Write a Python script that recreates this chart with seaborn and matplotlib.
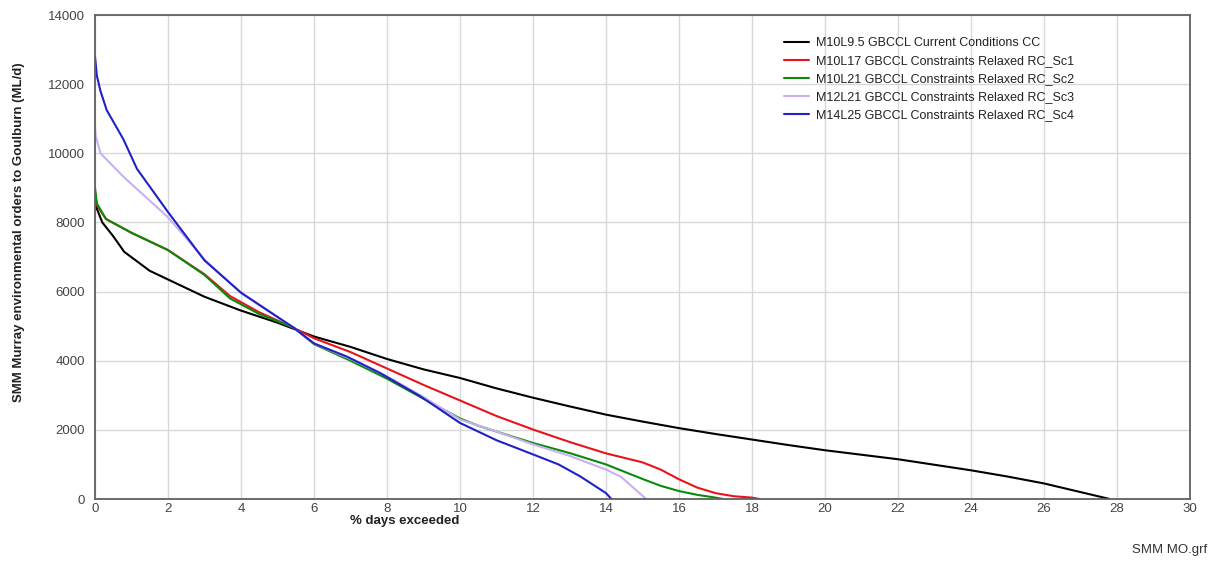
import matplotlib
matplotlib.use("Agg")
import matplotlib.pyplot as plt
import seaborn as sns
import pandas as pd

# ---- data ----
series_names = [
    "M10L9.5 GBCCL Current Conditions CC",
    "M10L17 GBCCL Constraints Relaxed RC_Sc1",
    "M10L21 GBCCL Constraints Relaxed RC_Sc2",
    "M12L21 GBCCL Constraints Relaxed RC_Sc3",
    "M14L25 GBCCL Constraints Relaxed RC_Sc4",
]

cc_x = [0, 0.05, 0.2, 0.5, 0.8, 1.5, 2, 3, 4, 5, 6, 7, 8, 9, 10, 11, 12, 13, 14,
        15, 16, 17, 18, 19, 20, 21, 22, 23, 24, 25, 26, 27, 27.8]
cc_y = [8750, 8400, 8000, 7600, 7150, 6600, 6350, 5850, 5450, 5100, 4700, 4400,
        4050, 3750, 3500, 3200, 2930, 2680, 2440, 2240, 2050, 1880, 1720, 1560,
        1410, 1280, 1150, 990, 830, 650, 450, 200, 0]

sc1_x = [0, 0.05, 0.3, 1, 2, 3, 3.7, 4.5, 5.45, 6, 7, 7.8, 9, 10, 11, 12, 13, 14,
         15, 15.5, 16, 16.5, 17, 17.5, 18, 18.2]
sc1_y = [8900, 8500, 8100, 7700, 7200, 6500, 5870, 5400, 4950, 4650, 4250, 3870,
         3300, 2850, 2400, 2010, 1650, 1320, 1060, 850, 570, 330, 170, 80, 40, 0]

sc2_x = [0, 0.05, 0.3, 1, 2, 3, 3.7, 4.5, 5.45, 6, 7, 8, 9, 10, 10.5, 11, 12, 13,
         14, 15, 15.5, 16, 16.5, 17, 17.2]
sc2_y = [9000, 8550, 8100, 7700, 7200, 6480, 5800, 5350, 4950, 4480, 4000, 3480,
         2900, 2330, 2120, 1950, 1620, 1330, 1000, 580, 380, 230, 120, 40, 0]

sc3_x = [0, 0.02, 0.15, 0.8, 2, 3, 4, 5.45, 6, 7, 8, 9, 10, 11, 12, 13, 14, 14.4,
         14.8, 15.1]
sc3_y = [10800, 10500, 10000, 9300, 8150, 6930, 5950, 4950, 4500, 4050, 3550,
         2950, 2300, 1950, 1580, 1250, 850, 650, 280, 0]

sc4_x = [0, 0.05, 0.15, 0.32, 0.78, 1.15, 2, 3, 4, 5.45, 6, 6.9, 7.8, 8.9, 10, 11,
         12, 12.7, 13.3, 14, 14.15]
sc4_y = [12800, 12250, 11800, 11250, 10400, 9550, 8300, 6900, 5970, 4950, 4500,
         4120, 3650, 2980, 2200, 1700, 1290, 1000, 650, 170, 0]

x_ticks = list(range(0, 31, 2))
y_ticks = list(range(0, 14001, 2000))

colors = ["#000000", "#e8141a", "#0a8a0a", "#c9b0f0", "#2020c8"]

# ---- build long table ----
frames = []
for name, xs, ys in zip(series_names,
                        [cc_x, sc1_x, sc2_x, sc3_x, sc4_x],
                        [cc_y, sc1_y, sc2_y, sc3_y, sc4_y]):
    frames.append(pd.DataFrame({"x": xs, "y": ys, "series": name}))
df = pd.concat(frames, ignore_index=True)

sns.set_theme(style="whitegrid")
plt.rcParams["font.family"] = ["Liberation Sans", "DejaVu Sans"]

fig = plt.figure(figsize=(12.12, 5.72), dpi=100)
ax = fig.add_axes([95 / 1212, 1 - 499 / 572, (1190 - 95) / 1212, (499 - 15) / 572])

sns.lineplot(data=df, x="x", y="y", hue="series", hue_order=series_names,
             palette=dict(zip(series_names, colors)), estimator=None, sort=False,
             linewidth=1.5, ax=ax)

ax.set_xlim(0, 30)
ax.set_ylim(0, 14000)
ax.set_xticks(x_ticks)
ax.set_yticks(y_ticks)
ax.set_xticklabels([str(t) for t in x_ticks])
ax.set_yticklabels([str(t) for t in y_ticks])
ax.tick_params(axis="both", labelsize=9.5, colors="#444444", length=0)
ax.tick_params(axis="x", pad=3)
ax.tick_params(axis="y", pad=7)
ax.set_xlabel("")
ax.set_ylabel("")
ax.grid(True, color="#d8d8d8", linewidth=1.0)
ax.set_facecolor("white")
for s in ax.spines.values():
    s.set_color("#606060")
    s.set_linewidth(1.3)
    s.set_visible(True)

leg = ax.legend(loc="upper left", bbox_to_anchor=(0.625, 0.964), frameon=False,
                fontsize=9, handlelength=2.0, handletextpad=0.5,
                labelspacing=0.48, borderaxespad=0)
for t in leg.get_texts():
    t.set_color("#222222")

fig.text(405 / 1212, 1 - 521 / 572, "% days exceeded", ha="center", va="center",
         fontsize=9.5, fontweight="bold", color="#222222")
fig.text(19 / 1212, 1 - 232 / 572,
         "SMM Murray environmental orders to Goulburn (ML/d)",
         rotation=90, ha="center", va="center", fontsize=9.5,
         fontweight="bold", color="#222222")
fig.text(1207 / 1212, 1 - 550 / 572, "SMM MO.grf", ha="right", va="center",
         fontsize=9.5, color="#333333")

fig.savefig("out.png", dpi=100, facecolor="white")
